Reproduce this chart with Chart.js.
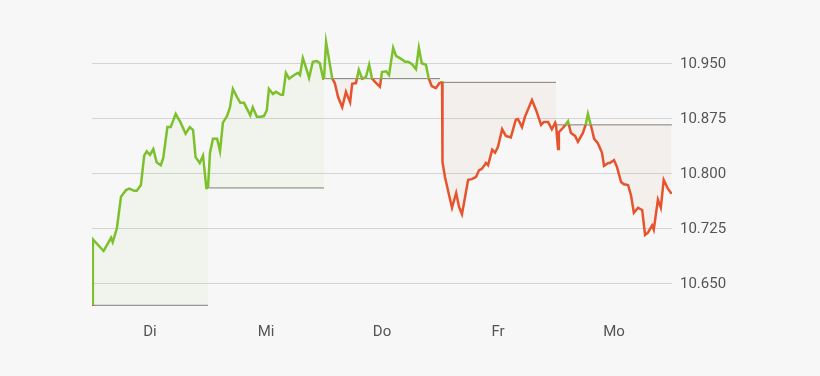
<!DOCTYPE html>
<html>
<head>
<meta charset="utf-8">
<script src="https://cdn.jsdelivr.net/npm/chart.js@4"></script>
<style>
  html, body { margin: 0; padding: 0; background: #f7f7f7; }
  #wrap { width: 820px; height: 376px; }
</style>
</head>
<body>
<div id="wrap"><canvas id="chart"></canvas></div>
<script>
// Days shown on the axis, session = 14 hours each
const days = ['Di', 'Mi', 'Do', 'Fr', 'Mo'];
const sessionHours = 14;

// previous close per day (reference line)
const closes = [10.621, 10.781, 10.930, 10.925, 10.867];

const yTicks = [10.650, 10.725, 10.800, 10.875, 10.950];

// [hour in session, price]
const di = [
  [0, 10.621], [0.1, 10.711], [1.4, 10.695], [2.3, 10.713], [2.5, 10.707],
  [3.0, 10.726], [3.5, 10.769], [4.1, 10.778], [4.5, 10.780], [5.1, 10.777],
  [5.4, 10.777], [5.9, 10.785], [6.3, 10.825], [6.6, 10.831], [7.0, 10.826],
  [7.4, 10.834], [7.8, 10.816], [8.3, 10.812], [8.6, 10.822], [9.1, 10.864],
  [9.5, 10.864], [10.1, 10.882], [10.7, 10.870], [11.3, 10.855], [11.8, 10.864],
  [12.2, 10.860], [12.5, 10.823], [13.0, 10.815], [13.4, 10.825], [13.8, 10.781],
  [14.0, 10.781]
];
const mi = [
  [0, 10.781], [0.24, 10.829], [0.6, 10.848], [1.1, 10.848], [1.45, 10.831],
  [1.8, 10.870], [2.3, 10.879], [2.65, 10.891], [3.0, 10.916], [3.5, 10.905],
  [3.9, 10.897], [4.35, 10.897], [5.1, 10.880], [5.4, 10.891], [5.9, 10.878],
  [6.4, 10.878], [6.75, 10.879], [7.1, 10.887], [7.35, 10.916], [7.85, 10.909],
  [8.2, 10.912], [8.8, 10.908], [9.05, 10.908], [9.4, 10.938], [9.8, 10.930],
  [10.4, 10.935], [10.85, 10.938], [11.1, 10.935], [11.45, 10.958], [11.8, 10.946],
  [12.2, 10.931], [12.65, 10.953], [13.15, 10.954], [13.5, 10.951], [13.9, 10.930],
  [14.0, 10.930]
];
const dO = [
  [0, 10.930], [0.25, 10.980], [1.0, 10.930], [1.3, 10.924], [1.7, 10.905],
  [2.2, 10.891], [2.65, 10.912], [3.15, 10.898], [3.4, 10.923], [3.85, 10.924],
  [4.2, 10.942], [4.6, 10.930], [5.05, 10.932], [5.45, 10.949], [5.8, 10.930],
  [6.3, 10.924], [6.75, 10.919], [7.0, 10.939], [7.5, 10.940], [7.85, 10.935],
  [8.35, 10.972], [8.7, 10.961], [9.3, 10.957], [9.8, 10.953], [10.15, 10.953],
  [10.6, 10.950], [11.1, 10.943], [11.45, 10.972], [11.8, 10.951], [12.3, 10.949],
  [12.65, 10.930], [13.0, 10.920], [13.5, 10.917], [14.0, 10.925]
];
const fr = [
  [0, 10.925], [0.25, 10.925], [0.3, 10.816], [0.6, 10.796], [1.1, 10.771],
  [1.45, 10.754], [1.95, 10.774], [2.3, 10.755], [2.65, 10.745], [3.4, 10.792],
  [3.85, 10.793], [4.35, 10.796], [4.7, 10.805], [5.05, 10.807], [5.55, 10.815],
  [5.8, 10.812], [6.3, 10.833], [6.65, 10.829], [7.0, 10.837], [7.5, 10.861],
  [7.95, 10.852], [8.55, 10.850], [9.15, 10.874], [9.4, 10.875], [9.9, 10.864],
  [10.25, 10.878], [11.1, 10.901], [11.6, 10.887], [12.2, 10.867], [12.55, 10.871],
  [13.05, 10.871], [13.5, 10.861], [13.9, 10.870], [14.0, 10.867]
];
const mo = [
  [0, 10.867], [0.25, 10.834], [0.35, 10.857], [0.85, 10.863], [1.2, 10.868],
  [1.45, 10.872], [1.8, 10.856], [2.3, 10.852], [2.65, 10.844], [3.25, 10.856],
  [3.6, 10.868], [3.85, 10.882], [4.35, 10.860], [4.6, 10.848], [5.05, 10.842],
  [5.55, 10.829], [5.8, 10.811], [6.3, 10.815], [6.5, 10.815], [7.0, 10.819],
  [7.35, 10.810], [7.85, 10.789], [8.2, 10.786], [8.7, 10.785], [9.05, 10.771],
  [9.4, 10.747], [9.9, 10.754], [10.4, 10.751], [10.75, 10.717], [11.1, 10.720],
  [11.6, 10.730], [11.8, 10.724], [12.3, 10.765], [12.65, 10.754], [13.0, 10.792],
  [13.5, 10.780], [13.95, 10.773]
];
const series = [di, mi, dO, fr, mo];

const GREEN = '#7cc02c';
const RED = '#e6532c';

// split the stroke colour exactly at the reference line
function splitColor(base) {
  return (ctx) => {
    const chart = ctx.chart;
    const area = chart.chartArea;
    if (!area) return GREEN;
    const yb = chart.scales.y.getPixelForValue(base);
    let f = (yb - area.top) / (area.bottom - area.top);
    f = Math.min(1, Math.max(0, f));
    const g = chart.ctx.createLinearGradient(0, area.top, 0, area.bottom);
    g.addColorStop(0, GREEN);
    g.addColorStop(f, GREEN);
    g.addColorStop(f, RED);
    g.addColorStop(1, RED);
    return g;
  };
}

const datasets = [];
series.forEach((pts, i) => {
  const off = i * sessionHours;
  datasets.push({
    data: pts.map(p => ({ x: off + p[0], y: p[1] })),
    borderColor: splitColor(closes[i]),
    borderWidth: 2.5,
    pointRadius: 0,
    tension: 0,
    order: 0,
    fill: {
      target: { value: closes[i] },
      above: 'rgba(124, 192, 44, 0.05)',
      below: 'rgba(200, 150, 120, 0.08)'
    }
  });
  datasets.push({
    data: [{ x: off, y: closes[i] }, { x: off + sessionHours, y: closes[i] }],
    borderColor: '#7d7d7d',
    borderWidth: 1,
    pointRadius: 0,
    order: 1,
    fill: false
  });
});

new Chart(document.getElementById('chart'), {
  type: 'line',
  data: { datasets },
  options: {
    responsive: true,
    maintainAspectRatio: false,
    animation: false,
    layout: { padding: { top: 31, left: 92, right: 0, bottom: 0 } },
    plugins: { legend: { display: false }, tooltip: { enabled: false } },
    scales: {
      x: {
        type: 'linear',
        min: 0,
        max: days.length * sessionHours,
        afterBuildTicks: (s) => {
          s.ticks = days.map((d, i) => ({ value: i * sessionHours + sessionHours / 2 }));
        },
        afterFit: (s) => { s.height = 70; },
        grid: { display: false },
        border: { display: false },
        ticks: {
          autoSkip: false,
          maxRotation: 0,
          padding: 9,
          color: '#555',
          font: { family: 'Roboto', size: 15 },
          callback: (v, i) => days[i]
        }
      },
      y: {
        position: 'right',
        min: 10.62,
        max: 10.995,
        afterBuildTicks: (s) => {
          s.ticks = yTicks.map(v => ({ value: v }));
        },
        afterFit: (s) => { s.width = 148; },
        grid: { color: '#d4d4d4', drawTicks: false },
        border: { display: false },
        ticks: {
          padding: 8,
          color: '#555',
          font: { family: 'Roboto', size: 15 },
          callback: (v) => Number(v).toFixed(3)
        }
      }
    }
  }
});
</script>
</body>
</html>
